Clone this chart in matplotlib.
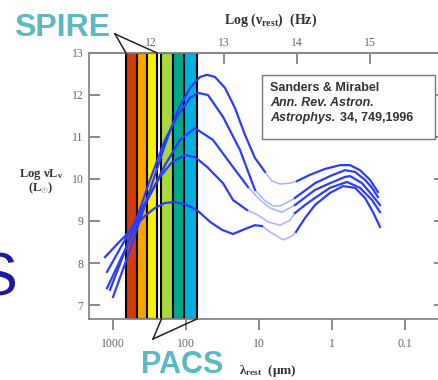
import numpy as np
import matplotlib
matplotlib.use('Agg')
import matplotlib.pyplot as plt
from matplotlib.patches import Rectangle
from matplotlib.lines import Line2D

plt.rcParams['mathtext.fontset'] = 'custom'
plt.rcParams['mathtext.rm'] = 'Liberation Serif:bold'
plt.rcParams['mathtext.it'] = 'Liberation Serif:bold:italic'
plt.rcParams['mathtext.bf'] = 'Liberation Serif:bold'

# SEDs: log10(lambda / um) and log10(nu L_nu / L_sun)
loglam_a = [3.000, 2.767, 2.493, 2.288, 2.110, 1.945, 1.808, 1.712, 1.603, 1.466, 1.329, 1.192, 1.055, 0.918,
            0.822, 0.712, 0.575, 0.479, 0.301, 0.096, -0.110, -0.247, -0.384, -0.521, -0.630]
logl_a = [7.19, 8.31, 9.74, 10.81, 11.64, 12.17, 12.43, 12.48, 12.43, 12.17, 11.69, 11.05, 10.50, 10.17,
          9.95, 9.88, 9.90, 9.95, 10.10, 10.24, 10.33, 10.33, 10.21, 9.98, 9.69]

loglam_b = [3.041, 2.767, 2.493, 2.288, 2.110, 1.945, 1.836, 1.699, 1.493, 1.260, 1.055,
            0.918, 0.808, 0.712, 0.603, 0.507, 0.233, 0.027, -0.178, -0.315, -0.452, -0.548, -0.630]
logl_b = [7.36, 8.60, 9.98, 10.93, 11.52, 11.93, 12.05, 12.00, 11.48, 10.69, 9.74,
          9.48, 9.36, 9.36, 9.45, 9.55, 9.90, 10.07, 10.21, 10.17, 9.98, 9.79, 9.57]

loglam_c = [3.082, 2.836, 2.562, 2.288, 2.082, 1.877, 1.630, 1.397, 1.151,
            0.986, 0.849, 0.685, 0.507, 0.233, 0.027, -0.178, -0.247, -0.411, -0.548, -0.658]
logl_c = [7.40, 8.31, 9.38, 10.33, 10.93, 11.21, 10.93, 10.38, 9.81,
          9.50, 9.31, 9.21, 9.38, 9.74, 9.90, 10.05, 10.07, 9.90, 9.62, 9.38]

loglam_d = [3.082, 2.836, 2.562, 2.356, 2.192, 2.014, 1.877, 1.712, 1.493, 1.356, 1.164,
            1.014, 0.877, 0.712, 0.575, 0.507, 0.370, 0.233, 0.027, -0.205, -0.384, -0.548, -0.658]
logl_d = [7.79, 8.55, 9.43, 10.05, 10.40, 10.57, 10.52, 10.29, 9.90, 9.50, 9.26,
          9.14, 8.98, 8.90, 9.02, 9.19, 9.38, 9.55, 9.79, 9.93, 9.79, 9.50, 9.21]

loglam_e = [3.110, 2.904, 2.726, 2.562, 2.425, 2.288, 2.151, 2.014, 1.849, 1.671, 1.507, 1.356, 1.192, 1.055, 0.959,
            0.849, 0.671, 0.548, 0.493, 0.370, 0.233, 0.027, -0.151, -0.315, -0.452, -0.562, -0.658]
logl_e = [8.14, 8.52, 8.83, 9.12, 9.31, 9.43, 9.45, 9.40, 9.26, 8.98, 8.79, 8.69, 8.81, 8.90, 8.88,
          8.74, 8.55, 8.64, 8.74, 9.07, 9.38, 9.67, 9.83, 9.79, 9.55, 9.21, 8.86]

# part of each curve drawn faint (log lambda range)
faint_hi = [0.918, 1.055, 1.151, 1.164, 0.959]
faint_lo = [0.479, 0.507, 0.507, 0.507, 0.493]

# filter bands (um)
spire_edges = [664, 476, 337, 249]
spire_colors = ['#d93a06', '#ffa200', '#f4f400']
pacs_edges = [217, 153, 105, 71]
pacs_colors = ['#a9d83c', '#00a98a', '#00b1e0']

lam_ticks = [1000, 100, 10, 1, 0.1]
lam_labels = ['1000', '100', '10', '1', '0.1']
nu_ticks = [1e12, 1e13, 1e14, 1e15, 1e16]
nu_labels = ['12', '13', '14', '15', '16']
l_ticks = [7, 8, 9, 10, 11, 12, 13]

W, H = 439, 380
fig = plt.figure(figsize=(W/100, H/100), dpi=100)
ax = fig.add_axes([89/W, 1-319/H, (445-89)/W, (319-53)/H])
ax.set_xscale('log')
ax.set_xlim(10**(3+24/73), 10**(3-332/73))
ax.set_ylim(13 - 266/42, 13.0)

ymin, ymax = ax.get_ylim()
for edges, cols in [(spire_edges, spire_colors), (pacs_edges, pacs_colors)]:
    for i, c in enumerate(cols):
        ax.add_patch(Rectangle((edges[i+1], ymin), edges[i]-edges[i+1], ymax-ymin,
                               facecolor=c, edgecolor='black', lw=1.5, zorder=2))

blue = '#2a3cff'
faint = '#a9b1ff'
curves = [(loglam_a, logl_a), (loglam_b, logl_b), (loglam_c, logl_c), (loglam_d, logl_d), (loglam_e, logl_e)]
for (ll, lv), hi, lo in zip(curves, faint_hi, faint_lo):
    ll = np.array(ll)
    lv = np.array(lv)
    lam = 10**ll
    m1 = ll >= hi
    m2 = (ll <= hi) & (ll >= lo)
    m3 = ll <= lo
    ax.plot(lam[m2], lv[m2], color=faint, lw=1.1, zorder=3)
    ax.plot(lam[m1], lv[m1], color=blue, lw=1.6, zorder=4)
    ax.plot(lam[m3], lv[m3], color=blue, lw=1.6, zorder=4)

tick_font = dict(family='Liberation Serif', size=8.5, color='#666666')
ax.set_xticks(lam_ticks)
ax.set_xticklabels(lam_labels, fontdict=tick_font)
ax.xaxis.set_minor_locator(plt.NullLocator())
ax.set_yticks(l_ticks)
ax.set_yticklabels([str(v) for v in l_ticks], fontdict=tick_font)
ax.tick_params(axis='x', which='major', direction='out', length=8, width=1.2, color='#777777', pad=6)
ax.tick_params(axis='y', which='major', direction='in', length=8, width=1.2, color='#777777',
               right=True, pad=4)
for s in ax.spines.values():
    s.set_color('#888888')
    s.set_linewidth(1.3)

sec = ax.secondary_xaxis('top', functions=(lambda l: 2.998e14/l, lambda n: 2.998e14/n))
sec.set_xticks(nu_ticks)
sec.set_xticklabels(nu_labels, fontdict=tick_font)
sec.xaxis.set_minor_locator(plt.NullLocator())
sec.tick_params(axis='x', direction='in', length=8, width=1.2, color='#777777', pad=3)
sec.spines['top'].set_color('#888888')
sec.spines['top'].set_linewidth(1.3)

# axis titles
fig.text(271/W, 1-20/H, r'$\mathrm{Log\ (\nu_{rest})\ \ (Hz)}$', ha='center', va='center', size=10, color='#333333')
fig.text(268/W, 1-371/H, r'$\mathrm{\lambda_{rest}\ \ (\mu m)}$', ha='center', va='center', size=9.5, color='#333333')
fig.text(41/W, 1-174/H, r'$\mathrm{Log\ \nu L_{\nu}}$', ha='center', va='center', size=9, color='#333333')
fig.text(41/W, 1-188/H, r'$\mathrm{(L_{\odot})}$', ha='center', va='center', size=9, color='#333333')

# instrument labels with pointers to their bands
teal = '#5cb8c2'
fig.text(62/W, 1-36/H, 'SPIRE', ha='center', va='baseline', family='Liberation Sans',
         weight='bold', size=23, color=teal)
fig.text(182/W, 1-373/H, 'PACS', ha='center', va='baseline', family='Liberation Sans',
         weight='bold', size=22, color=teal)
fig.text(17/W, 1-280/H, 'S', ha='right', va='center', family='Liberation Sans', size=44, color='#1c1c9a')

fig.canvas.draw()
def to_fig(x, y):
    return fig.transFigure.inverted().transform(ax.transData.transform((x, y)))

apex = (115/W, 1-34/H)
for e in [spire_edges[0], spire_edges[-1]]:
    px, py = to_fig(e, ymax)
    fig.add_artist(Line2D([apex[0], px], [apex[1], py], color='#222222', lw=1.1, transform=fig.transFigure))
apex = (153/W, 1-339/H)
for e in [pacs_edges[0], pacs_edges[-1]]:
    px, py = to_fig(e, ymin)
    fig.add_artist(Line2D([apex[0], px], [apex[1], py], color='#222222', lw=1.1, transform=fig.transFigure))

# reference box
fig.add_artist(Rectangle((262/W, 1-139/H), 173/W, 64/H, transform=fig.transFigure,
                         facecolor='white', edgecolor='#777777', lw=1.0))
box_font = dict(family='Liberation Sans', weight='bold', size=9, color='#333333', va='center')
fig.text(270/W, 1-88/H, 'Sanders & Mirabel', **box_font)
fig.text(270/W, 1-103/H, 'Ann. Rev. Astron.', style='italic', **box_font)
t = fig.text(270/W, 1-118/H, 'Astrophys. ', style='italic', **box_font)
fig.canvas.draw()
bb = t.get_window_extent()
fig.text(fig.transFigure.inverted().transform((bb.x1 + 1, 0))[0], 1-118/H, '34, 749,1996', **box_font)

fig.savefig('out.png', dpi=100)
